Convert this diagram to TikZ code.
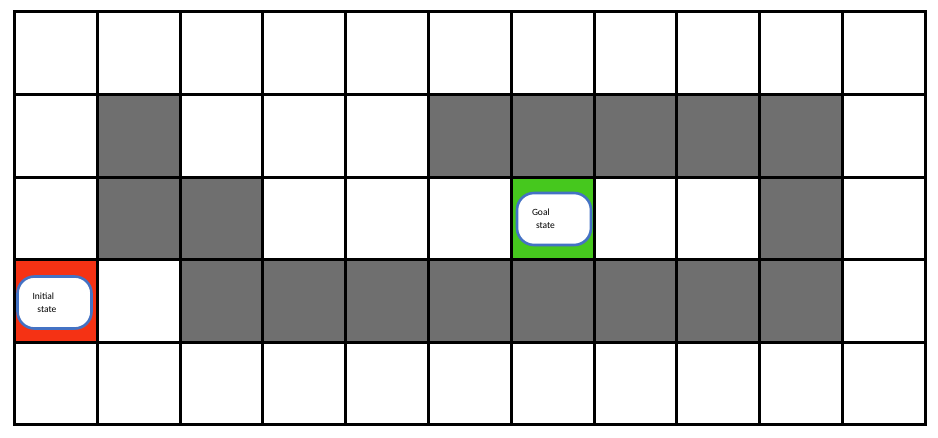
\documentclass[tikz,border=0pt]{standalone}
\usepackage{fontspec}
\setmainfont{Carlito}
\usetikzlibrary{shadows}
\definecolor{wall}{RGB}{111,111,111}
\definecolor{startred}{RGB}{245,50,20}
\definecolor{goalgreen}{RGB}{70,200,30}
\definecolor{boxblue}{RGB}{68,114,196}
\begin{document}
\begin{tikzpicture}[x=1pt,y=-1pt,
  label box/.style={draw=boxblue,line width=2.6pt,fill=white,rounded corners=17pt,
     minimum width=74pt,minimum height=52pt,inner xsep=15pt,inner ysep=0pt,text width=44pt,align=left,
     font=\fontsize{9.5}{13}\selectfont,
     drop shadow={shadow xshift=1pt,shadow yshift=-1.5pt,opacity=0.35}}]
\useasboundingbox (0,0) rectangle (938,438);
\fill[white] (0,0) rectangle (938,438);
\def\X#1{14.5+82.8*#1}
\def\Y#1{12+82.6*#1}
% grey wall cells
\foreach \c/\r in {1/1,5/1,6/1,7/1,8/1,9/1,1/2,2/2,9/2,2/3,3/3,4/3,5/3,6/3,7/3,8/3,9/3}
  \fill[wall] ({\X{\c}},{\Y{\r}}) rectangle ({\X{\c}+82.8},{\Y{\r}+82.6});
\fill[startred] ({\X{0}},{\Y{3}}) rectangle ({\X{0}+82.8},{\Y{3}+82.6});
\fill[goalgreen] ({\X{6}},{\Y{2}}) rectangle ({\X{6}+82.8},{\Y{2}+82.6});
% grid lines
\foreach \c in {0,...,11}
  \draw[line width=3pt] ({\X{\c}},{\Y{0}-1.5}) -- ({\X{\c}},{\Y{5}+1.5});
\foreach \r in {0,...,5}
  \draw[line width=3pt] ({\X{0}-1.5},{\Y{\r}}) -- ({\X{11}+1.5},{\Y{\r}});
% labels
\node[label box] (init) at (54.5,302.5) {Initial\\\hspace*{5pt}state};
\node[label box] (goal) at (554,219) {Goal\\\hspace*{4pt}state};
\end{tikzpicture}
\end{document}
